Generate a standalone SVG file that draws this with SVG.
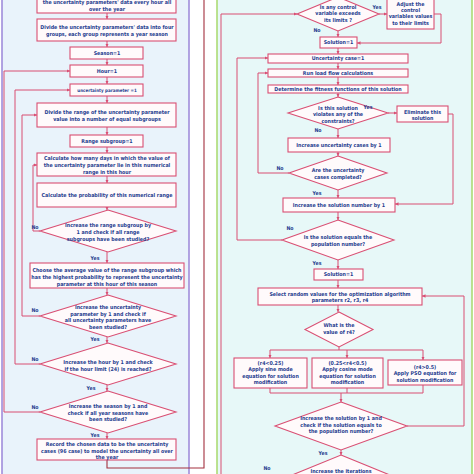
<svg xmlns="http://www.w3.org/2000/svg" width="474" height="474" viewBox="0 0 474 474">
<style>
.b{fill:#fffafb;stroke:#d94f73;stroke-width:1.1}
.t{font-family:"DejaVu Sans Condensed","DejaVu Sans",sans-serif;font-weight:bold;font-size:5.3px;fill:#1f3d8f;text-anchor:middle}
.s{font-size:4.5px}
.l{font-family:"DejaVu Sans Condensed","DejaVu Sans",sans-serif;font-weight:bold;font-size:5.2px;fill:#1f3d8f;text-anchor:middle}
.c{fill:none;stroke:#d94f73;stroke-width:1}
.a{marker-end:url(#ah)}
</style>
<defs>
<marker id="ah" viewBox="0 0 6 6" refX="6" refY="3" markerWidth="3.5" markerHeight="3.5" orient="auto" markerUnits="userSpaceOnUse">
<path d="M0 0L6 3L0 6z" fill="#d94f73"/>
</marker>
</defs>
<rect width="474" height="474" fill="#ffffff"/>
<!-- panels -->
<rect x="2" y="-5" width="187" height="485" fill="#e9f3fb" stroke="#9b86d9" stroke-width="1.5"/>
<rect x="217" y="-5" width="255" height="485" fill="#e7f8f8" stroke="#a8d96c" stroke-width="1.5"/>

<g id="connectors">
<!-- left main flow -->
<path class="c a" d="M107 13V19"/>
<path class="c a" d="M107 41V47"/>
<path class="c a" d="M107 59V65"/>
<path class="c a" d="M107 77V84"/>
<path class="c a" d="M107 96V103"/>
<path class="c a" d="M107 127V135"/>
<path class="c a" d="M107 147V153"/>
<path class="c a" d="M107 176V183"/>
<path class="c a" d="M107 207V210"/>
<path class="c a" d="M107 252V263"/>
<path class="c a" d="M107 288V295"/>
<path class="c a" d="M107 337V343"/>
<path class="c a" d="M107 385V391"/>
<path class="c a" d="M107 433V439"/>
<path fill="none" stroke="#a3303e" stroke-width="1.1" d="M107 460V468H204V-5"/>
<!-- left loops -->
<path class="c a" d="M40 231H33V165H37"/>
<path class="c a" d="M40 316H22V115H37"/>
<path class="c a" d="M40 364H15V90H70"/>
<path class="c a" d="M40 412H4V71H70"/>
<!-- right flow -->
<path class="c a" d="M379 14H387"/>
<path class="c a" d="M434 14H441V43H357"/>
<path class="c a" d="M338 31V37"/>
<path class="c a" d="M338 48V54"/>
<path class="c a" d="M338 63V69"/>
<path class="c a" d="M338 77V85"/>
<path class="c a" d="M338 93V97"/>
<path class="c a" d="M388 113H397"/>
<path class="c a" d="M448 114H453V204H395"/>
<path class="c a" d="M338 129V138"/>
<path class="c a" d="M338 152V156"/>
<path class="c a" d="M289 173H258V73H268"/>
<path class="c a" d="M338 190V198"/>
<path class="c a" d="M338 212V220"/>
<path class="c a" d="M282 240H237V58H268"/>
<path class="c a" d="M338 260V269"/>
<path class="c a" d="M338 280V288"/>
<path class="c a" d="M338 305V312"/>
<path class="c" d="M339 347V350M270 350H423"/>
<path class="c a" d="M270 350V358"/>
<path class="c a" d="M347 350V358"/>
<path class="c a" d="M423 350V360"/>
<path class="c" d="M270 388V393M347 388V393M423 385V393M270 393H423"/>
<path class="c a" d="M341 393V402"/>
<path class="c a" d="M407 426H464V296H422"/>
<path class="c a" d="M341 450V455"/>
<path class="c a" d="M275 482H221V14H297"/>
</g>

<!-- left nodes -->
<g id="n1"><rect class="b" x="37" y="-10" width="139" height="23"/>
<text class="t" x="107" y="4">the uncertainty parameters' data every hour all</text>
<text class="t" x="107" y="10.5">over the year</text></g>
<g id="n2"><rect class="b" x="37" y="19" width="139" height="22"/>
<text class="t" x="107" y="28.5">Divide the uncertainty parameters' data into four</text>
<text class="t" x="107" y="35.5">groups, each group represents a year season</text></g>
<g id="n3"><rect class="b" x="70" y="47" width="73" height="12"/>
<text class="t" x="107" y="54.8">Season=1</text></g>
<g id="n4"><rect class="b" x="70" y="65" width="73" height="12"/>
<text class="t" x="107" y="72.8">Hour=1</text></g>
<g id="n5"><rect class="b" x="70" y="84" width="73" height="12"/>
<text class="t s" x="107" y="91.6">uncertainty parameter =1</text></g>
<g id="n6"><rect class="b" x="37" y="103" width="139" height="24"/>
<text class="t" x="107" y="114">Divide the range of the uncertainty parameter</text>
<text class="t" x="107" y="121">value into a number of equal subgroups</text></g>
<g id="n7"><rect class="b" x="70" y="135" width="73" height="12"/>
<text class="t" x="107" y="142.8">Range subgroup=1</text></g>
<g id="n8"><rect class="b" x="37" y="153" width="139" height="23"/>
<text class="t" x="107" y="160">Calculate how many days in which the value of</text>
<text class="t" x="107" y="167">the uncertainty parameter lie in this numerical</text>
<text class="t" x="107" y="174">range in this hour</text></g>
<g id="n9"><rect class="b" x="37" y="183" width="139" height="24"/>
<text class="t" x="107" y="196.8">Calculate the probability of this numerical range</text></g>
<g id="n10"><path class="b" d="M108 210L176 231L108 252L40 231Z"/>
<text class="t" x="108" y="227">Increase the range subgroup by</text>
<text class="t" x="108" y="234">1 and check  if  all  range</text>
<text class="t" x="108" y="241">subgroups have been studied?</text></g>
<g id="n11"><rect class="b" x="30" y="263" width="154" height="25"/>
<text class="t" x="107" y="272">Choose the average value of the range subgroup which</text>
<text class="t" x="107" y="279">has the highest probability to represent the uncertainty</text>
<text class="t" x="107" y="285.5">parameter at this hour of this season</text></g>
<g id="n12"><path class="b" d="M108 295L176 316L108 337L40 316Z"/>
<text class="t" x="108" y="309">Increase the uncertainty</text>
<text class="t" x="108" y="315.5">parameter by 1 and check  if</text>
<text class="t" x="108" y="322">all  uncertainty parameters have</text>
<text class="t" x="108" y="328.5">been studied?</text></g>
<g id="n13"><path class="b" d="M108 343L176 364L108 385L40 364Z"/>
<text class="t" x="108" y="364">Increase the hour by 1 and check</text>
<text class="t" x="108" y="370.5">if  the hour limit (24) is reached?</text></g>
<g id="n14"><path class="b" d="M108 391L176 412L108 433L40 412Z"/>
<text class="t" x="108" y="408">Increase the season by 1 and</text>
<text class="t" x="108" y="414.5">check  if  all year  seasons have</text>
<text class="t" x="108" y="421">been studied?</text></g>
<g id="n15"><rect class="b" x="37" y="439" width="139" height="21"/>
<text class="t" x="107" y="446">Record the chosen data to be the uncertainty</text>
<text class="t" x="107" y="452.5">cases (96 case) to model the uncertainty all over</text>
<text class="t" x="107" y="459">the year</text></g>

<g id="left-labels">
<text class="l" x="35" y="229">No</text>
<text class="l" x="35" y="312">No</text>
<text class="l" x="35" y="361">No</text>
<text class="l" x="35" y="409">No</text>
<text class="l" x="95" y="259.5">Yes</text>
<text class="l" x="95" y="341">Yes</text>
<text class="l" x="91" y="390">Yes</text>
<text class="l" x="95" y="437">Yes</text>
</g>

<!-- right nodes -->
<g id="r1"><path class="b" d="M338 -3L379 14L338 31L297 14Z"/>
<text class="t" x="338" y="8.5">Is any  control</text>
<text class="t" x="338" y="15">variable exceeds</text>
<text class="t" x="338" y="21.5">its limits ?</text></g>
<g id="r2"><rect class="b" x="387" y="-3" width="47" height="32"/>
<text class="t" x="410.5" y="6">Adjust the</text>
<text class="t" x="410.5" y="12">control</text>
<text class="t" x="410.5" y="18">variables values</text>
<text class="t" x="410.5" y="24.5">to their limits</text></g>
<g id="r3"><rect class="b" x="320" y="37" width="37" height="11"/>
<text class="t" x="338.5" y="44.3">Solution=1</text></g>
<g id="r4"><rect class="b" x="268" y="54" width="140" height="9"/>
<text class="t" x="338" y="60.3">Uncertainty case=1</text></g>
<g id="r5"><rect class="b" x="268" y="69" width="140" height="8"/>
<text class="t" x="338" y="74.8">Run load flow calculations</text></g>
<g id="r6"><rect class="b" x="268" y="85" width="140" height="8"/>
<text class="t" x="338" y="90.8">Determine the fitness functions of this solution</text></g>
<g id="r7"><path class="b" d="M338 97L388 113L338 129L288 113Z"/>
<text class="t" x="338" y="110">Is this solution</text>
<text class="t" x="338" y="116.3">violates any of the</text>
<text class="t" x="338" y="122.6">constraints?</text></g>
<g id="r8"><rect class="b" x="397" y="106" width="51" height="16"/>
<text class="t" x="422.5" y="113.5">Eliminate this</text>
<text class="t" x="422.5" y="119.8">solution</text></g>
<g id="r9"><rect class="b" x="288" y="138" width="102" height="14"/>
<text class="t" x="339" y="146.8">Increase uncertainty cases by 1</text></g>
<g id="r10"><path class="b" d="M338 156L387 173L338 190L289 173Z"/>
<text class="t" x="338" y="172">Are the uncertainty</text>
<text class="t" x="338" y="178.5">cases completed?</text></g>
<g id="r11"><rect class="b" x="283" y="198" width="112" height="14"/>
<text class="t" x="339" y="206.8">Increase the solution number by 1</text></g>
<g id="r12"><path class="b" d="M338 220L394 240L338 260L282 240Z"/>
<text class="t" x="338" y="239">Is the solution equals the</text>
<text class="t" x="338" y="245.5">population number?</text></g>
<g id="r13"><rect class="b" x="314" y="269" width="49" height="11"/>
<text class="t" x="338.5" y="276.3">Solution=1</text></g>
<g id="r14"><rect class="b" x="258" y="288" width="164" height="17"/>
<text class="t" x="340" y="295.5">Select random values for the optimization algorithm</text>
<text class="t" x="340" y="302.3">parameters r2, r3, r4</text></g>
<g id="r15"><path class="b" d="M339 312L373 329.5L339 347L305 329.5Z"/>
<text class="t" x="339" y="327">What is the</text>
<text class="t" x="339" y="333.5">value of r4?</text></g>
<g id="r16"><rect class="b" x="234" y="358" width="73" height="30"/>
<text class="t" x="270.5" y="365">(r4&lt;0.25)</text>
<text class="t" x="270.5" y="371.3">Apply sine mode</text>
<text class="t" x="270.5" y="377.6">equation for solution</text>
<text class="t" x="270.5" y="384">modification</text></g>
<g id="r17"><rect class="b" x="312" y="358" width="71" height="30"/>
<text class="t" x="347.5" y="365">(0.25&lt;r4&lt;0.5)</text>
<text class="t" x="347.5" y="371.3">Apply cosine mode</text>
<text class="t" x="347.5" y="377.6">equation for solution</text>
<text class="t" x="347.5" y="384">modification</text></g>
<g id="r18"><rect class="b" x="388" y="360" width="74" height="25"/>
<text class="t" x="425" y="369">(r4&gt;0.5)</text>
<text class="t" x="425" y="375.3">Apply PSO equation for</text>
<text class="t" x="425" y="381.6">solution modification</text></g>
<g id="r19"><path class="b" d="M341 402L407 426L341 450L275 426Z"/>
<text class="t" x="341" y="420">Increase the solution by 1 and</text>
<text class="t" x="341" y="426.5">check if  the solution equals to</text>
<text class="t" x="341" y="433">the population number?</text></g>
<g id="r20"><path class="b" d="M341 455L407 482L341 509L275 482Z"/>
<text class="t" x="341" y="472.5">Increase the iterations</text></g>

<g id="right-labels">
<text class="l" x="377" y="9">Yes</text>
<text class="l" x="317" y="31.5">No</text>
<text class="l" x="368" y="109">Yes</text>
<text class="l" x="318" y="132">No</text>
<text class="l" x="280" y="169.5">No</text>
<text class="l" x="317" y="194.5">Yes</text>
<text class="l" x="290" y="230">No</text>
<text class="l" x="317" y="264.5">Yes</text>
<text class="l" x="323" y="454.5">Yes</text>
<text class="l" x="267" y="470">No</text>
</g>
</svg>
